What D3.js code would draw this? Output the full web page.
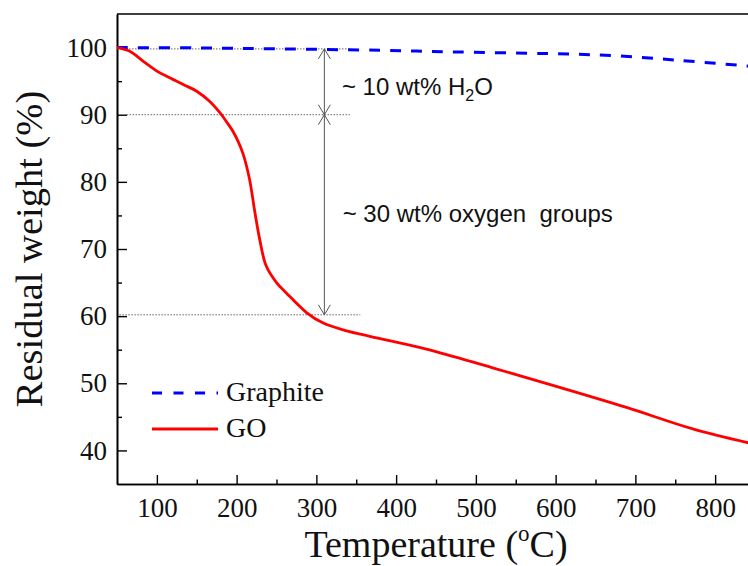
<!DOCTYPE html>
<html>
<head>
<meta charset="utf-8">
<script src="https://cdn.jsdelivr.net/npm/d3@7"></script>
<style>
  body { margin: 0; background: #fff; }
  svg { display: block; }
</style>
</head>
<body>
<div id="chart"></div>
<script>
// TGA data: temperature (°C) and residual weight (%)
var goTemp   = [50, 66, 83, 100, 116, 133, 150, 166, 179, 187, 196, 202, 208, 216, 223, 229, 237, 250, 262, 288, 308, 338, 367, 438, 521, 605, 689, 772, 850];
var goWeight = [100, 99.45, 97.96, 96.5, 95.5, 94.5, 93.5, 92.0, 90.3, 89.0, 87.4, 86.0, 84.2, 80.5, 75.4, 71.4, 67.5, 65.0, 63.5, 60.5, 59.0, 57.8, 57.0, 55.1, 52.3, 49.4, 46.4, 43.2, 40.9];

var graphiteTemp   = [50, 150, 254, 380, 469, 590, 674, 757, 836, 850];
var graphiteWeight = [100, 99.95, 99.8, 99.6, 99.36, 99.1, 98.8, 98.07, 97.3, 97.15];

var xTicks = [100, 200, 300, 400, 500, 600, 700, 800];
var xMinorTicks = [150, 250, 350, 450, 550, 650, 750];
var yTicks = [40, 50, 60, 70, 80, 90, 100];
var yMinorTicks = [45, 55, 65, 75, 85, 95];

var seriesNames = ["Graphite", "GO"];

// Dimensions
var margin = {top: 14, left: 117},
    width = 638,
    height = 470;

var svg = d3.select("#chart")
  .append("svg")
  .attr("width", 748)
  .attr("height", 566);

var g = svg.append("g")
  .attr("transform", "translate(" + margin.left + "," + margin.top + ")");

var x = d3.scaleLinear().domain([50, 850]).range([0, width]);
var y = d3.scaleLinear().domain([35, 105]).range([height, 0]);

var serif = "'Times New Roman', 'Liberation Serif', serif";
var sans = "Arial, 'Liberation Sans', sans-serif";

// Frame (top and right edges)
g.append("path")
  .attr("d", "M0,0H" + width + "V" + height)
  .attr("fill", "none")
  .attr("stroke", "#000")
  .attr("stroke-width", 1.6);

// Axes, ticks point inward
function styleAxis(sel) {
  sel.select(".domain").attr("stroke-width", 1.6);
  sel.selectAll(".tick line").attr("stroke-width", 1.4);
  sel.selectAll("text")
    .attr("font-family", serif)
    .attr("font-size", 27)
    .attr("fill", "#111");
}

g.append("g")
  .attr("transform", "translate(0," + height + ")")
  .call(d3.axisBottom(x).tickValues(xMinorTicks).tickSize(-4.5).tickSizeOuter(0).tickFormat(""))
  .call(styleAxis);

g.append("g")
  .attr("transform", "translate(0," + height + ")")
  .call(d3.axisBottom(x).tickValues(xTicks).tickSize(-9).tickSizeOuter(0).tickPadding(14).tickFormat(d3.format("d")))
  .call(styleAxis);

g.append("g")
  .call(d3.axisLeft(y).tickValues(yMinorTicks).tickSize(-5).tickSizeOuter(0).tickFormat(""))
  .call(styleAxis);

g.append("g")
  .call(d3.axisLeft(y).tickValues(yTicks).tickSize(-10).tickSizeOuter(0).tickPadding(10).tickFormat(d3.format("d")))
  .call(styleAxis);

// Axis titles
svg.append("text")
  .attr("x", margin.left + width / 2)
  .attr("y", 557)
  .attr("text-anchor", "middle")
  .attr("font-family", serif)
  .attr("font-size", 38)
  .attr("fill", "#111")
  .call(function(t) {
    t.append("tspan").text("Temperature (");
    t.append("tspan").attr("font-size", 23).attr("dy", -16).text("o");
    t.append("tspan").attr("dy", 16).text("C)");
  });

svg.append("text")
  .attr("transform", "translate(42," + (margin.top + height / 2) + ")rotate(-90)")
  .attr("text-anchor", "middle")
  .attr("font-family", serif)
  .attr("font-size", 38.5)
  .attr("fill", "#111")
  .text("Residual weight (%)");

// Annotations: dotted guide lines and arrows
var guides = [
  {v: 99.8, from: 50, to: 342},
  {v: 90, from: 62, to: 342},
  {v: 60.2, from: 53, to: 355}
];

g.selectAll(".guide")
  .data(guides)
  .enter()
  .append("line")
  .attr("class", "guide")
  .attr("x1", function(d) { return x(d.from); })
  .attr("x2", function(d) { return x(d.to); })
  .attr("y1", function(d) { return y(d.v); })
  .attr("y2", function(d) { return y(d.v); })
  .attr("stroke", "#666")
  .attr("stroke-width", 1)
  .attr("stroke-dasharray", "1.5,1.5");

var arrowT = 310;
var ax = x(arrowT);
g.append("line")
  .attr("x1", ax).attr("x2", ax)
  .attr("y1", y(99.8)).attr("y2", y(60.2))
  .attr("stroke", "#555")
  .attr("stroke-width", 1);

// arrow heads: direction -1 points up, +1 points down
var heads = [
  {v: 99.8, dir: -1},
  {v: 90, dir: 1},
  {v: 90, dir: -1},
  {v: 60.2, dir: 1}
];
g.selectAll(".head")
  .data(heads)
  .enter()
  .append("path")
  .attr("class", "head")
  .attr("d", function(d) {
    var ty = y(d.v);
    return "M" + (ax - 6) + "," + (ty - d.dir * 10) + "L" + ax + "," + ty + "L" + (ax + 6) + "," + (ty - d.dir * 10);
  })
  .attr("fill", "none")
  .attr("stroke", "#555")
  .attr("stroke-width", 1);

var note1 = g.append("text")
  .attr("x", x(332))
  .attr("y", y(93.0))
  .attr("font-family", sans)
  .attr("font-size", 24)
  .attr("fill", "#111")
  .style("white-space", "pre");
note1.append("tspan").text("~ 10 wt% H");
note1.append("tspan").attr("font-size", 16).attr("dy", 6).text("2");
note1.append("tspan").attr("dy", -6).text("O");

g.append("text")
  .attr("x", x(333))
  .attr("y", y(74.0))
  .attr("font-family", sans)
  .attr("font-size", 24)
  .attr("fill", "#111")
  .style("white-space", "pre")
  .text("~ 30 wt% oxygen  groups");

// Curves
g.append("clipPath").attr("id", "plotclip")
  .append("rect").attr("width", width).attr("height", height);

var line = d3.line()
  .x(function(d) { return x(d[0]); })
  .y(function(d) { return y(d[1]); })
  .curve(d3.curveCatmullRom.alpha(0.5));

var graphite = d3.zip(graphiteTemp, graphiteWeight);
var go = d3.zip(goTemp, goWeight);

g.append("path")
  .datum(graphite)
  .attr("clip-path", "url(#plotclip)")
  .attr("d", line)
  .attr("fill", "none")
  .attr("stroke", "#0000ff")
  .attr("stroke-width", 3)
  .attr("stroke-dasharray", "11,10");

g.append("path")
  .datum(go)
  .attr("clip-path", "url(#plotclip)")
  .attr("d", line)
  .attr("fill", "none")
  .attr("stroke", "#ff0000")
  .attr("stroke-width", 2.8);

// Legend
var legendColors = {"Graphite": "#0000ff", "GO": "#ff0000"};
var legend = svg.selectAll(".legend")
  .data(seriesNames)
  .enter()
  .append("g")
  .attr("class", "legend")
  .attr("transform", function(d, i) { return "translate(152," + (393 + i * 36) + ")"; });

legend.append("line")
  .attr("x1", 0).attr("x2", 66)
  .attr("stroke", function(d) { return legendColors[d]; })
  .attr("stroke-width", 3)
  .attr("stroke-dasharray", function(d) { return d === "Graphite" ? "10,11.5" : null; });

legend.append("text")
  .attr("x", 74)
  .attr("y", 8)
  .attr("font-family", serif)
  .attr("font-size", 28)
  .attr("fill", "#111")
  .text(function(d) { return d; });
</script>
</body>
</html>
